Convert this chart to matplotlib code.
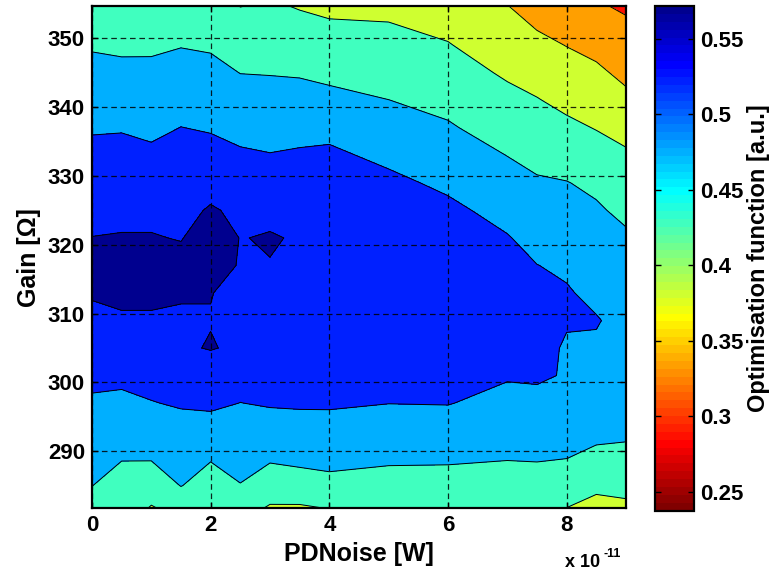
import numpy as np
import matplotlib
matplotlib.use("Agg")
import matplotlib.pyplot as plt
from matplotlib.colors import Normalize, ListedColormap
from matplotlib.cm import ScalarMappable

plt.rcParams['font.family'] = ['Liberation Sans', 'DejaVu Sans']
plt.rcParams['font.weight'] = 'bold'

# PDNoise in units of 1e-11 W
pd_noise = [0, 0.5, 1, 1.5, 2, 2.5, 3, 3.5, 4, 5, 6, 7, 7.5, 8, 8.5, 9]
gain = [281.7, 285, 289, 293, 297, 301, 305, 309, 313, 317, 321, 325, 329,
        333, 337, 341, 345, 349, 354.7]

# optimisation function, one list per PDNoise column (gain from low to high)
opt_cols = [
    [0.410, 0.429, 0.443, 0.457, 0.471, 0.486, 0.500, 0.514, 0.528, 0.539, 0.525, 0.510, 0.498, 0.486, 0.473, 0.456, 0.440, 0.425, 0.405],
    [0.402, 0.417, 0.430, 0.449, 0.468, 0.485, 0.499, 0.522, 0.528, 0.543, 0.527, 0.513, 0.500, 0.487, 0.474, 0.456, 0.439, 0.421, 0.402],
    [0.378, 0.398, 0.432, 0.453, 0.475, 0.489, 0.502, 0.522, 0.528, 0.546, 0.527, 0.513, 0.498, 0.484, 0.468, 0.453, 0.438, 0.422, 0.402],
    [0.392, 0.430, 0.447, 0.463, 0.480, 0.492, 0.520, 0.517, 0.529, 0.539, 0.522, 0.510, 0.499, 0.488, 0.477, 0.461, 0.444, 0.427, 0.405],
    [0.400, 0.407, 0.432, 0.459, 0.484, 0.505, 0.526, 0.523, 0.525, 0.543, 0.548, 0.529, 0.507, 0.490, 0.473, 0.456, 0.440, 0.424, 0.402],
    [0.405, 0.427, 0.444, 0.460, 0.476, 0.491, 0.519, 0.511, 0.517, 0.521, 0.523, 0.515, 0.500, 0.482, 0.464, 0.446, 0.428, 0.410, 0.380],
    [0.374, 0.413, 0.432, 0.458, 0.480, 0.495, 0.505, 0.512, 0.518, 0.523, 0.527, 0.515, 0.496, 0.478, 0.461, 0.443, 0.427, 0.407, 0.386],
    [0.374, 0.414, 0.436, 0.461, 0.481, 0.493, 0.503, 0.510, 0.515, 0.517, 0.521, 0.512, 0.500, 0.482, 0.462, 0.444, 0.425, 0.405, 0.378],
    [0.382, 0.417, 0.440, 0.462, 0.481, 0.493, 0.503, 0.510, 0.515, 0.517, 0.517, 0.511, 0.499, 0.484, 0.465, 0.440, 0.419, 0.399, 0.372],
    [0.402, 0.417, 0.433, 0.455, 0.477, 0.491, 0.500, 0.507, 0.512, 0.514, 0.510, 0.500, 0.486, 0.467, 0.448, 0.429, 0.412, 0.395, 0.371],
    [0.402, 0.415, 0.433, 0.456, 0.478, 0.490, 0.499, 0.505, 0.509, 0.508, 0.500, 0.486, 0.468, 0.451, 0.433, 0.417, 0.400, 0.383, 0.360],
    [0.402, 0.414, 0.430, 0.448, 0.464, 0.480, 0.491, 0.496, 0.498, 0.491, 0.479, 0.462, 0.445, 0.428, 0.410, 0.393, 0.375, 0.358, 0.334],
    [0.402, 0.414, 0.431, 0.448, 0.467, 0.481, 0.487, 0.490, 0.487, 0.477, 0.462, 0.448, 0.433, 0.418, 0.400, 0.383, 0.364, 0.344, 0.315],
    [0.380, 0.407, 0.429, 0.448, 0.464, 0.474, 0.473, 0.479, 0.480, 0.470, 0.457, 0.443, 0.430, 0.410, 0.390, 0.370, 0.351, 0.332, 0.309],
    [0.371, 0.387, 0.420, 0.438, 0.455, 0.464, 0.471, 0.479, 0.467, 0.455, 0.444, 0.434, 0.420, 0.399, 0.379, 0.360, 0.341, 0.321, 0.290],
    [0.374, 0.390, 0.415, 0.438, 0.453, 0.460, 0.463, 0.464, 0.460, 0.450, 0.435, 0.419, 0.403, 0.387, 0.366, 0.343, 0.323, 0.305, 0.279],
]

levels = [0.2374, 0.2852, 0.3330, 0.3808, 0.4286, 0.4764, 0.5242, 0.5720]
cbar_ticks = [0.25, 0.3, 0.35, 0.4, 0.45, 0.5, 0.55]
cbar_ticklabels = ["0.25", "0.3", "0.35", "0.4", "0.45", "0.5", "0.55"]


def matlab_jet(m=64):
    # same construction as MATLAB's jet(m)
    n = int(np.ceil(m / 4))
    u = np.concatenate([np.arange(1, n + 1) / n, np.ones(n - 1), np.arange(n, 0, -1) / n])
    g = int(np.ceil(n / 2)) - (1 if m % 4 == 1 else 0) + np.arange(1, len(u) + 1)
    r = g + n
    b = g - n
    J = np.zeros((m, 3))
    for col, idx in enumerate([r, g, b]):
        ok = (idx >= 1) & (idx <= m)
        J[idx[ok] - 1, col] = u[ok]
    return J


X, Y = np.meshgrid(pd_noise, gain)
Z = np.array(opt_cols).T

cmap = ListedColormap(matlab_jet(64)[::-1])
norm = Normalize(vmin=0.2374, vmax=0.5719)
band_colors = [cmap(min(norm(v), 0.9999)) for v in levels[1:]]

fig = plt.figure(figsize=(7.73, 5.76), dpi=100)
ax = fig.add_axes([0.1190, 0.1175, 0.6908, 0.8720])
cax = fig.add_axes([0.8470, 0.1134, 0.0512, 0.8762])

ax.contourf(X, Y, Z, levels=levels, colors=band_colors)
ax.contour(X, Y, Z, levels=levels[1:-1], colors='k', linewidths=0.7)

ax.set_xlim(0, 9)
ax.set_ylim(281.7, 354.7)
ax.set_xticks([0, 2, 4, 6, 8])
ax.set_xticklabels(["0", "2", "4", "6", "8"])
ax.set_yticks([290, 300, 310, 320, 330, 340, 350])
ax.grid(True, color='k', linestyle=(0, (4.5, 3)), linewidth=0.9, alpha=0.85)
ax.set_axisbelow(False)
ax.tick_params(direction='in', length=4, width=1, top=True, right=True,
               labelsize=16, pad=5)
for s in ax.spines.values():
    s.set_linewidth(1.6)

ax.set_xlabel("PDNoise [W]", fontsize=18, fontweight='bold', labelpad=4)
ax.set_ylabel("Gain [Ω]", fontsize=18, fontweight='bold', labelpad=5)

fig.text(565 / 773, 1 - 567 / 576, "x 10", fontsize=13, fontweight='bold',
         ha='left', va='baseline')
fig.text(603 / 773, 1 - 557 / 576, "-11", fontsize=9, fontweight='bold',
         ha='left', va='baseline')

cb = fig.colorbar(ScalarMappable(norm=norm, cmap=cmap), cax=cax)
cb.set_ticks(cbar_ticks)
cb.set_ticklabels(cbar_ticklabels)
cax.tick_params(direction='in', length=4, width=1, left=True, right=True,
                labelsize=16, pad=4)
cb.outline.set_linewidth(1.6)
cb.set_label("Optimisation function [a.u.]", fontsize=17, fontweight='bold',
             labelpad=3)

fig.savefig("out.png", dpi=100)
